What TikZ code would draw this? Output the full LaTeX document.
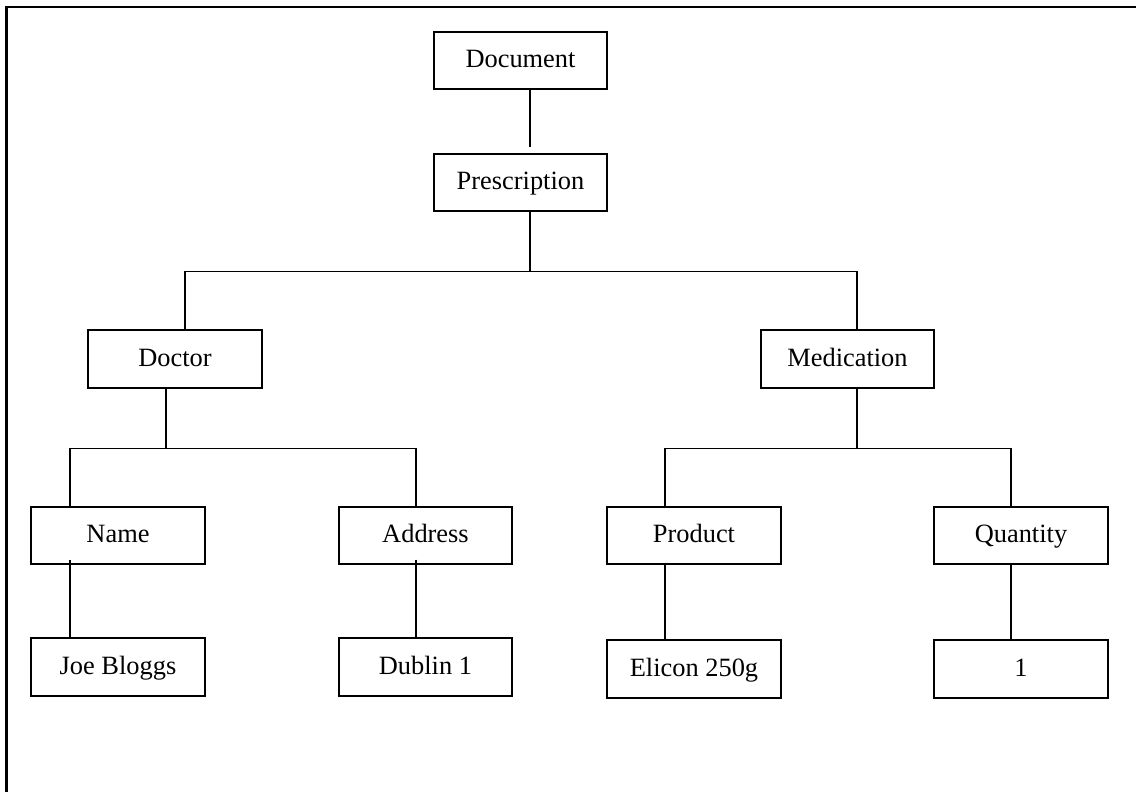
\documentclass[tikz,border=0pt]{standalone}
\usepackage{fontspec}
\setmainfont{Liberation Serif}
\usetikzlibrary{calc}
\tikzset{
  box/.style={draw=black, line width=1pt, rectangle, inner sep=0pt, font=\fontsize{19.8}{22}\selectfont, text=black, text height=15pt, text depth=4.5pt},
  wire/.style={draw=black, line width=1pt},
  frame/.style={draw=black, line width=1.6pt}
}
\begin{document}
\begin{tikzpicture}[x=0.75pt, y=-0.75pt]
\useasboundingbox (0,0) rectangle (1136,792);
\draw[frame] (1136,7) -- (6.5,7) -- (6.5,792);
% nodes
\node[box, minimum width=173*0.75pt, minimum height=57*0.75pt] (doc) at (520.5,60.5) {Document};
\node[box, minimum width=173*0.75pt, minimum height=57*0.75pt] (presc) at (520.5,182.5) {Prescription};
\node[box, minimum width=174*0.75pt, minimum height=58*0.75pt] (doctor) at (175,359) {Doctor};
\node[box, minimum width=173*0.75pt, minimum height=58*0.75pt] (med) at (847.5,359) {Medication};
\node[box, minimum width=174*0.75pt, minimum height=57*0.75pt] (name) at (118,535.5) {Name};
\node[box, minimum width=173*0.75pt, minimum height=57*0.75pt] (addr) at (425.5,535.5) {Address};
\node[box, minimum width=174*0.75pt, minimum height=57*0.75pt] (prod) at (694,535.5) {Product};
\node[box, minimum width=174*0.75pt, minimum height=57*0.75pt] (qty) at (1021,535.5) {Quantity};
\node[box, minimum width=174*0.75pt, minimum height=58*0.75pt] (joe) at (118,667) {Joe Bloggs};
\node[box, minimum width=173*0.75pt, minimum height=58*0.75pt] (dub) at (425.5,667) {Dublin 1};
\node[box, minimum width=174*0.75pt, minimum height=58*0.75pt] (eli) at (694,669) {Elicon 250g};
\node[box, minimum width=174*0.75pt, minimum height=58*0.75pt] (one) at (1021,669) {1};
% column coordinates
\coordinate (xa) at (530,0);
\coordinate (xb) at (185,0);
\coordinate (xc) at (857,0);
\coordinate (xd) at (166,0);
\coordinate (xe) at (70,0);
\coordinate (xf) at (416,0);
\coordinate (xg) at (665,0);
\coordinate (xh) at (1011,0);
% connectors
\draw[wire, shorten >=6*0.75pt] (doc.south -| xa) -- (presc.north -| xa);
\draw[wire] (presc.south -| xa) -- ++(0,60) coordinate (bar);
\draw[wire] (doctor.north -| xb) |- (bar) -| (med.north -| xc);
\draw[wire] (doctor.south -| xd) -- ++(0,60) coordinate (dbar);
\draw[wire] (name.north -| xe) |- (dbar) -| (addr.north -| xf);
\draw[wire] (med.south -| xc) -- ++(0,60) coordinate (mbar);
\draw[wire] (prod.north -| xg) |- (mbar) -| (qty.north -| xh);
\draw[wire, shorten <=-5*0.75pt] (name.south -| xe) -- (joe.north -| xe);
\draw[wire, shorten <=-5*0.75pt] (addr.south -| xf) -- (dub.north -| xf);
\draw[wire, shorten <=-2*0.75pt] (prod.south -| xg) -- (eli.north -| xg);
\draw[wire, shorten <=-2*0.75pt] (qty.south -| xh) -- (one.north -| xh);
\end{tikzpicture}
\end{document}
